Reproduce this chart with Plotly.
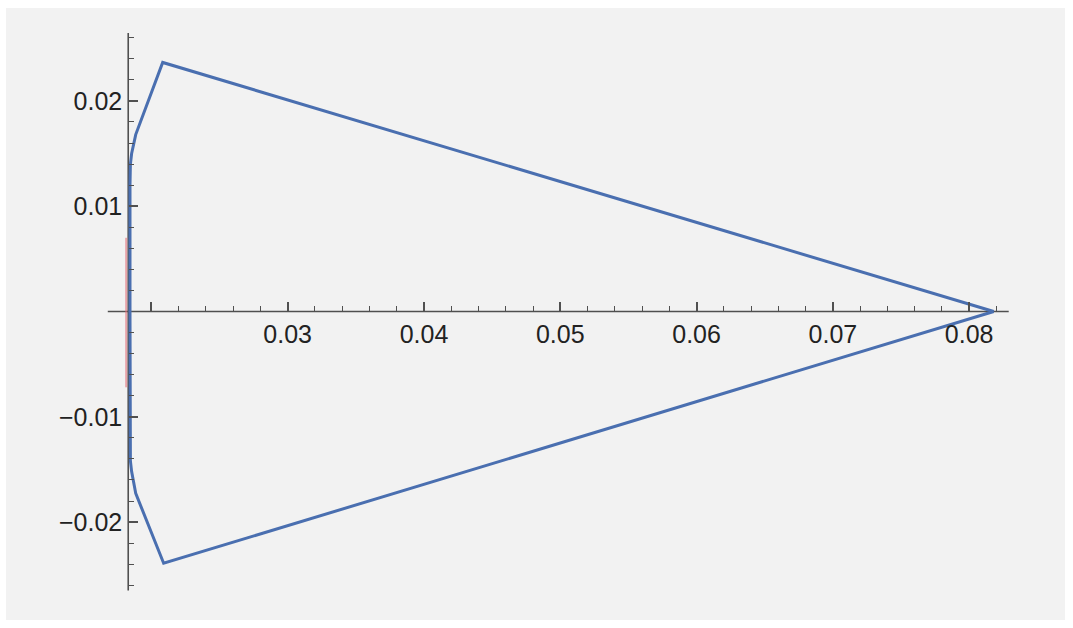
import plotly.graph_objects as go

# Blue closed outline (x, y)
blue_x = [0.0818, 0.02083, 0.01885, 0.01868, 0.01855, 0.01846, 0.01843, 0.01843, 0.01843,
          0.01846, 0.01855, 0.01868, 0.01885, 0.02090, 0.0818]
blue_y = [0.0, 0.02365, 0.01680, 0.01590, 0.01500, 0.01400, 0.01200, 0.0, -0.01200,
          -0.01420, -0.01520, -0.01620, -0.01727, -0.02391, 0.0]

# Red vertical segment
red_x = [0.01815, 0.01815]
red_y = [0.0070, -0.0072]

# Axes
axis_cross_x = 0.0183
x_axis_extent = [0.0168, 0.0829]
y_axis_extent = [-0.0265, 0.02645]
x_range = [0.009333, 0.087029]
y_range = [-0.029297, 0.028822]

x_major = [0.02, 0.03, 0.04, 0.05, 0.06, 0.07, 0.08]
x_major_text = ["", "0.03", "0.04", "0.05", "0.06", "0.07", "0.08"]
x_minor = [0.022, 0.024, 0.026, 0.028, 0.032, 0.034, 0.036, 0.038, 0.042, 0.044, 0.046, 0.048,
           0.052, 0.054, 0.056, 0.058, 0.062, 0.064, 0.066, 0.068, 0.072, 0.074, 0.076, 0.078, 0.082]
y_major = [-0.02, -0.01, 0.01, 0.02]
y_major_text = ["\u22120.02", "\u22120.01", "0.01", "0.02"]
y_minor = [-0.026, -0.024, -0.022, -0.018, -0.016, -0.014, -0.012, -0.008, -0.006, -0.004, -0.002,
           0.002, 0.004, 0.006, 0.008, 0.012, 0.014, 0.016, 0.018, 0.022, 0.024, 0.026]

AXIS_COLOR = "#505050"
BLUE = "#4a6fb0"

fig = go.Figure()
fig.add_trace(go.Scatter(x=blue_x, y=blue_y, mode="lines",
                         line=dict(color=BLUE, width=3), hoverinfo="skip"))
fig.add_trace(go.Scatter(x=red_x, y=red_y, mode="lines",
                         line=dict(color="rgba(225,110,120,0.6)", width=2), hoverinfo="skip"))

# axis lines
fig.add_shape(type="line", x0=x_axis_extent[0], x1=x_axis_extent[1], y0=0, y1=0,
              line=dict(color=AXIS_COLOR, width=1.6), layer="below")
fig.add_shape(type="line", x0=axis_cross_x, x1=axis_cross_x, y0=y_axis_extent[0], y1=y_axis_extent[1],
              line=dict(color=AXIS_COLOR, width=1.6), layer="below")

xpos = (0 - y_range[0]) / (y_range[1] - y_range[0])
ypos = (axis_cross_x - x_range[0]) / (x_range[1] - x_range[0])

font = dict(family="Liberation Sans, Arial, sans-serif", size=25, color="#222222")

fig.update_layout(
    width=1073, height=628,
    margin=dict(l=6, r=8, t=8, b=8),
    paper_bgcolor="white",
    plot_bgcolor="#f2f2f2",
    showlegend=False,
    hovermode=False,
    xaxis=dict(range=x_range, showgrid=False, zeroline=False, showline=False,
               anchor="free", position=xpos, side="bottom",
               tickmode="array", tickvals=x_major, ticktext=x_major_text,
               ticks="inside", ticklen=9, tickwidth=1.5, tickcolor=AXIS_COLOR,
               tickfont=font, ticklabelstandoff=6,
               minor=dict(tickmode="array", tickvals=x_minor, ticks="inside",
                          ticklen=5, tickwidth=1.2, tickcolor=AXIS_COLOR, showgrid=False)),
    yaxis=dict(range=y_range, showgrid=False, zeroline=False, showline=False,
               anchor="free", position=ypos, side="left",
               tickmode="array", tickvals=y_major, ticktext=y_major_text,
               ticks="inside", ticklen=9, tickwidth=1.5, tickcolor=AXIS_COLOR,
               tickfont=font, ticklabelstandoff=6,
               minor=dict(tickmode="array", tickvals=y_minor, ticks="inside",
                          ticklen=5, tickwidth=1.2, tickcolor=AXIS_COLOR, showgrid=False)),
)

fig.write_html("out.html", config={"displayModeBar": False},
               post_script="document.body.style.margin='0';")
